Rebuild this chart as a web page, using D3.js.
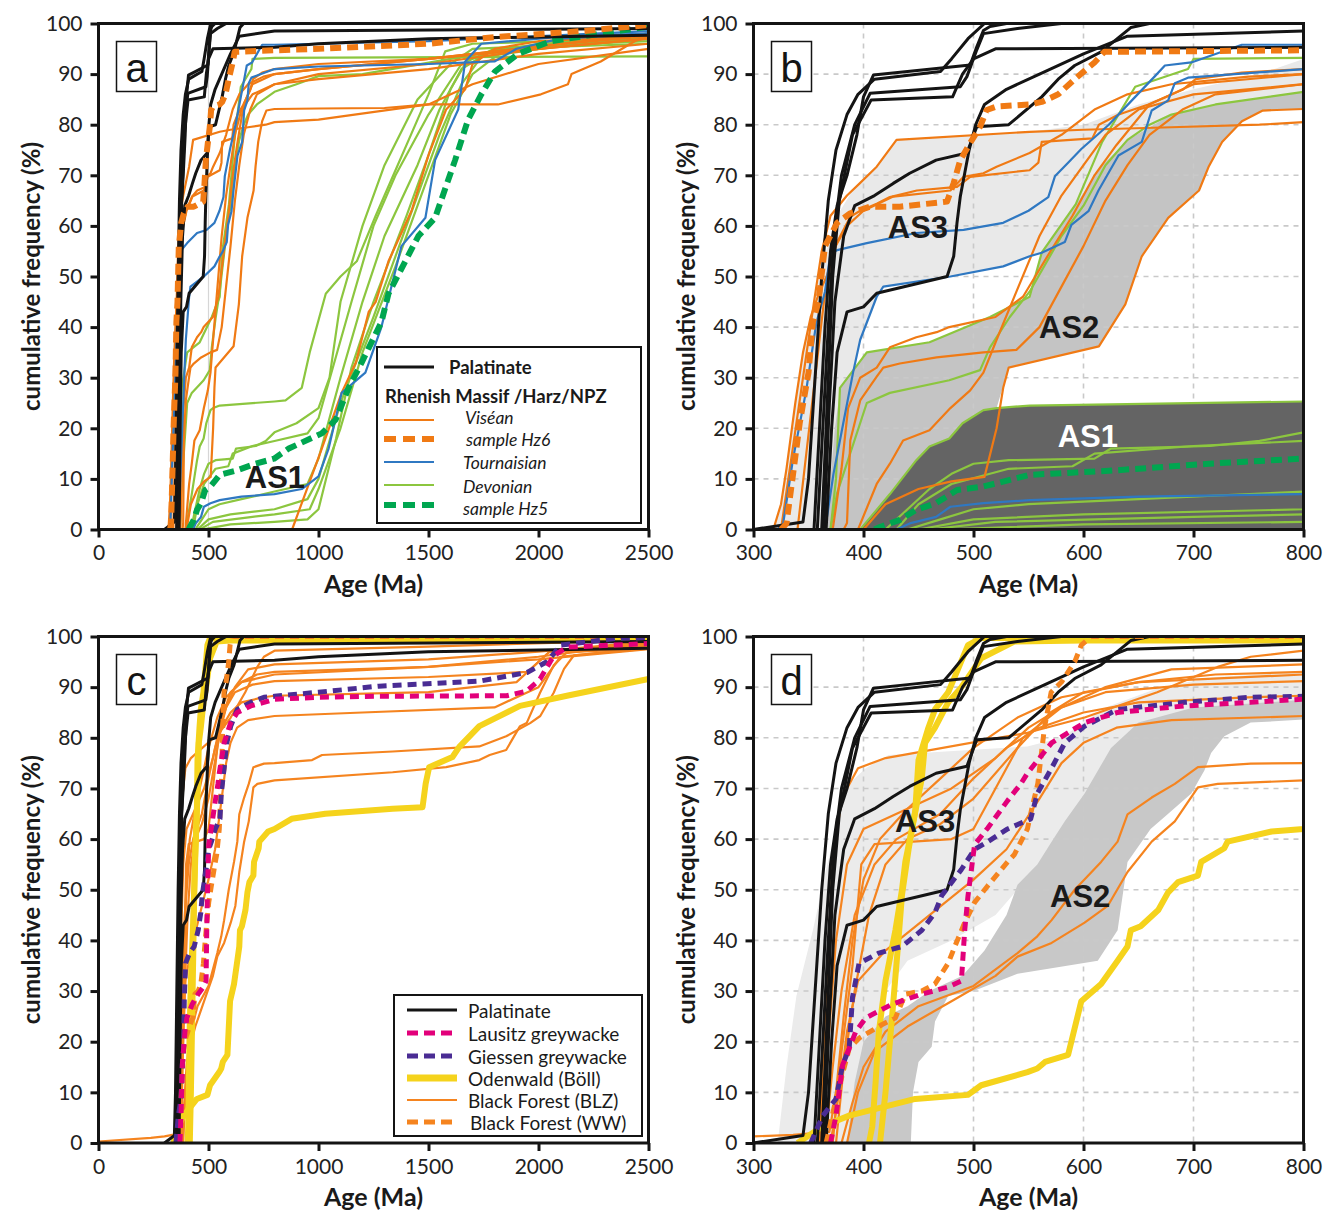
<!DOCTYPE html>
<html><head><meta charset="utf-8">
<script src="https://cdn.jsdelivr.net/npm/d3@7"></script>
<style>body{margin:0;background:#fff}</style>
</head><body>
<svg id="chart" width="1326" height="1212"></svg>
<script>
// ---- tick labels ----
const ageTicksWide = [0, 500, 1000, 1500, 2000, 2500];
const ageTicksZoom = [300, 400, 500, 600, 700, 800];
const freqTicks = [0, 10, 20, 30, 40, 50, 60, 70, 80, 90, 100];

// ---- cumulative age curves: [age (Ma), cumulative frequency (%)] ----
const palatinate = [
  [[355,0],[360,20],[365,40],[370,55],[376,64],[385,70],[394,78],[400,85.5],[409,89.8],[440,90.5],[497,91.8],[503,95.4],[509,98.6],[515,99.4],[530,100],[2500,100]],
  [[358,0],[363,20],[368,40],[373,58],[380,70],[392,80],[406,86.2],[488,87.5],[494,89.5],[503,94.8],[509,98],[540,99],[580,100],[2500,100]],
  [[362,0],[367,25],[372,50],[378,65],[390,78],[407,84.9],[481,85.5],[490,90],[500,93],[520,95],[800,95.3],[1000,96],[1500,97],[2500,97.7]],
  [[366,0],[371,20],[376,35],[385,43],[400,44],[412,46.7],[476,50],[482,54],[485,60.6],[488,65.8],[496,75],[502,80],[510,84],[530,87],[560,90],[600,94],[640,97.5],[800,98.5],[2500,99]],
  [[364,0],[369,25],[374,45],[382,58],[392,64],[410,66],[427,68.4],[442,70.4],[466,73],[494,74.4],[503,79.6],[532,80],[562,85.5],[577,89],[592,91.7],[616,94.4],[643,99.2],[660,100],[2500,100]],
  [[300,0],[330,1],[345,1.5],[350,10],[356,30],[362,50],[368,65],[375,75],[385,82],[395,86],[410,89],[470,90.5],[480,93],[495,97],[510,100],[2500,100]]
];

const visean = [
  [[318,0],[325,5],[330,12],[338,25],[345,35],[352,42],[360,47],[366.5,50],[375.6,56.6],[388,61.8],[397,63],[412,64.4],[424,65.7],[448.5,67],[485,67.7],[497,69.7],[509,70],[551,71],[559,72.5],[562,76.6],[608,77.3],[614,80],[632,82],[659,84],[690,86.9],[702,89],[744,90.3],[800,91],[1000,92],[1500,93],[2000,95],[2500,97]],
  [[325,0],[335,15],[345,30],[355,45],[362,55],[370,62],[385,66],[397,68.5],[412,71.7],[430,77],[551,78.6],[600,79],[680,79.5],[760,80],[800,80.5],[1000,81],[1500,84],[1700,88],[2000,92],[2500,95]],
  [[395,0],[412,9],[424,13],[436,17.6],[460,19.6],[479,24],[497,27.5],[509,31],[521,37.5],[539,47],[560,58],[580,66],[600,72],[620,78],[650,83],[700,86],[800,88],[1000,89],[1500,91],[2000,94],[2500,96]],
  [[382,0],[385,1.3],[388,17.6],[397,25.5],[412,30.2],[418,32],[433,32.8],[466.5,34],[509,35],[539,35.5],[560,40],[580,48],[600,56],[620,65],[640,72],[660,78],[690,83],[720,86],[800,88],[1000,90],[1500,92],[2000,95],[2500,97]],
  [[372,0],[380,12],[386,24],[397,30],[412,32],[424,36],[448,38],[466.5,39],[478,40],[520,42],[545,46],[570,55],[590,62],[610,70],[630,76],[660,84],[700,88],[800,90],[1000,91],[1500,93],[2500,98]],
  [[340,0],[348,15],[356,30],[364,45],[372,55],[385,60],[400,63],[427,65.8],[479,67],[491,69.7],[509,70.4],[521,71.7],[551,74.4],[580,78],[610,83],[640,86],[680,88],[750,89.5],[800,90],[1000,91],[1500,93],[2000,95.5],[2500,97.5]],
  [[400,0],[420,5],[450,8],[480,9.5],[510,10.4],[521,20],[527,28],[532,32],[614,36.2],[638,44.5],[653,54],[677,61.6],[705,67],[714,71.8],[726,76.6],[744,80.7],[763,82.8],[800,83.1],[1000,83.2],[1300,83.3],[1500,84],[1816,84],[2011,86],[2134,88],[2150,90],[2283,92.5],[2437,96.5],[2500,97.5]],
  [[880,0],[1015,16],[1105,27],[1170,33],[1228,43],[1260,45],[1318,53],[1423,63],[1500,74],[1580,83],[1667,87],[1700,92],[1800,95],[2000,96.5],[2500,97.5]]
];

const hz6 = [[325,0],[330,1.2],[336,11],[342,21],[350,31],[354,41],[359,45],[365,56],[376,60.6],[388,62.5],[406,63.8],[433,63.8],[476,64.8],[482,68.5],[488,73],[497,76.4],[506,79.6],[512,82.9],[521,83.6],[551,84],[562,84.5],[577,86],[592,89],[610,92.3],[619,94.4],[800,94.7],[1000,95],[1500,96],[1800,97.3],[2200,98.5],[2500,99.7]];

const tournaisian = [
  [[322,0],[327,1.2],[336,14],[348,27.6],[357,40.7],[365,47],[370,54.6],[376,55.2],[403,56.6],[448,58.6],[491,59.2],[527,60.6],[550,63],[568,65.7],[574,69.8],[586,72.5],[598,75.2],[623,80],[647,85.5],[665,89.6],[674,91.7],[698,92.3],[744,95.8],[800,95.8],[1000,96],[1500,96.5],[2500,98.5]],
  [[362,0],[366.5,2],[372.7,11],[381.6,21],[390.5,31],[397,37.5],[412,46],[418,48],[479,50],[527,52],[551,54],[562,54.7],[583,56.8],[589,60.2],[604.5,62.9],[613.6,67],[631.8,73.9],[653,76.6],[662,82.8],[677,84.8],[683,88.2],[695,89.3],[800,91],[1000,91.5],[1500,92],[1800,92.5],[1900,95],[2100,97],[2500,98]],
  [[430,0],[442,1.2],[466,2.5],[479,4.5],[509,5.2],[551,5.8],[650,6.5],[800,7],[924,8],[1000,10.5],[1046,16],[1105,27],[1213,31],[1286,40],[1377,56],[1486,61.6],[1530,73],[1635,83],[1667,92.5],[1740,96],[2134,97.5],[2500,98]]
];

const devonian = [
  [[397,0],[424,7],[448,13.7],[460,16.4],[478,18],[490,21],[509,23.6],[521,24],[551,24.5],[800,25.3],[850,25.5],[924,28],[960,35],[1033,46.6],[1100,50],[1174,53],[1260,62],[1350,71],[1420,78],[1500,86],[1576,94.5],[1700,96],[2500,97]],
  [[420,0],[440,4],[460,8],[480,11],[500,13],[532,13.7],[610,14],[625,16],[715,16.5],[760,17.5],[800,19.2],[900,21],[1000,24],[1050,30],[1100,45],[1200,60],[1300,72],[1450,85],[1600,92],[1700,95],[2500,96.5]],
  [[430,0],[450,5],[480,9],[532,12],[590,12.5],[610,15],[700,16.5],[800,17.5],[950,19],[1000,22],[1150,45],[1250,60],[1350,70],[1500,82],[1650,92],[1800,95],[2500,97]],
  [[440,0],[470,2],[500,4],[550,5],[650,6],[800,7.5],[950,9],[1000,14],[1100,30],[1200,45],[1300,58],[1450,72],[1550,83],[1650,91],[1800,95],[2500,96]],
  [[450,0],[500,2],[600,3],[800,4],[950,6],[1000,10],[1100,25],[1250,42],[1400,60],[1550,78],[1650,88],[1750,94],[2500,97.5]],
  [[460,0],[520,1.5],[700,2.5],[800,3],[960,4],[1000,8],[1100,20],[1200,35],[1350,52],[1500,70],[1600,82],[1700,90],[1850,95],[2500,98]],
  [[470,0],[600,1],[800,1.5],[950,2],[1000,4],[1080,18],[1150,32],[1250,45],[1400,62],[1500,74],[1600,87],[1680,93],[2500,98]],
  [[370,0],[375,10],[378.6,28],[403,35],[460,37],[515,42],[551,46],[562,54.7],[593,64.3],[617,76.6],[647,87.5],[695,91],[700,93],[800,93.2],[2500,93.5]],
  [[370,0],[376,7.2],[403,25],[424,27],[478,29.5],[506,31.5],[515,36],[533,42],[551,47],[580,58],[600,64],[620,72],[640,77],[660,80],[680,82],[720,84],[800,86.5],[900,88],[1000,89.6],[1200,90],[1600,93],[2000,96],[2500,97]]
];

const hz5 = [[410,0],[415,0.5],[433,1.9],[448,3.9],[466,5.2],[485,7.8],[509,8.5],[533,9.8],[551,10.8],[623,11.6],[714,13],[798,14],[865,16],[1015,19],[1078,21.7],[1137,28],[1196,33],[1286,41],[1318,46.6],[1454,58],[1530,61.6],[1621,73],[1680,81],[1740,86],[1802,90.5],[1907,94],[2056,96.5],[2283,98],[2500,99.4]];

const lausitz = [[370,0],[375,5.4],[381,15.4],[393,22],[402,24.7],[426,27.4],[453,29.4],[477,30.8],[489,32],[492,42],[495,48.8],[501,58.9],[513,62.2],[531,67.6],[543,70.9],[549,73],[571,79],[601,83],[631,85],[692,86.3],[752,87],[798,87.6],[1000,88],[1274,88.2],[1855,88.3],[1946,89.2],[2007,91.6],[2069,96.2],[2129,97.9],[2500,98.6]];

const giessen = [[352,0],[363,5.4],[375,8.7],[381,15.4],[387,18.7],[390,28.8],[396,35.5],[414,37.5],[435,38.8],[453,42],[465,45.5],[471,48.8],[489,54],[501,58],[513,59.5],[531,62],[552,64],[558,69],[571,74],[583,79],[601,82.3],[631,85.6],[692,87],[752,88],[800,88.2],[1000,89],[1274,90.2],[1734,91.2],[1948,92.9],[2038,95],[2102,98.3],[2347,99.6],[2500,99.8]];

const odenwald = [
  [[405,0],[408,3.3],[411,12],[414,22],[420,32],[429,42],[435,50],[438,55.5],[444,62],[453,72],[456,79],[465,82],[477,87],[489,90],[507,95.7],[537,99],[600,99.2],[2500,99.3]],
  [[415,0],[420,10],[426,25],[431,38],[435,49],[441,58],[447,65.5],[450,75.6],[459,82],[465,85.6],[477,89],[486,93.6],[495,98.3],[507,99.7],[2500,100]],
  [[340,0],[363,3.3],[387,5.4],[447,8.7],[495,9.5],[507,11.4],[549,14],[558,14.7],[565,16],[586,17.4],[598,28],[616,31.4],[631,36],[640,38.8],[643,42],[652,42.8],[668,46],[677,49.5],[686,51.5],[704,52.8],[707,55.5],[728,58.2],[731,59.5],[771,61.5],[800,62],[878,64],[1031,65],[1337,66],[1473,66.3],[1487,70.9],[1503,74.2],[1609,76.2],[1640,78.2],[1731,82.3],[1916,86.3],[2129,88.3],[2500,91.6]]
];

const blackForestBLZ = [
  [[0,0.3],[238,1],[300,1.3],[336,1.6],[369,2.2],[375,10],[382,25],[390,40],[400,52],[415,60],[440,66],[470,72],[500,78],[540,84],[580,88],[650,91],[800,92.5],[1500,94],[2000,95.5],[2500,97.5]],
  [[380,0],[390,8],[400,15],[420,22],[450,27],[500,31],[540,37.5],[558,40.8],[571,44],[592,50],[616,55.5],[631,59.5],[640,64.9],[662,68.2],[683,70.9],[704,74.2],[752,74.9],[800,75],[971,75.6],[1016,76.6],[1337,77.3],[1731,78.3],[1853,80.3],[1962,82.9],[2008,84.3],[2069,88.9],[2116,93.6],[2161,96.3],[2500,97.6]],
  [[385,0],[395,10],[410,18],[440,23],[480,28],[520,33],[540,36.8],[571,39.5],[601,43.5],[622,46.8],[640,53.5],[662,59.5],[683,63.5],[704,70.2],[722,70.9],[800,71.6],[1337,73.2],[1580,74.2],[1731,75.6],[1778,76.6],[1853,77.6],[1916,82.3],[1946,82.9],[2007,88.9],[2069,94.3],[2129,96.9],[2500,97.6]],
  [[370,0],[378,10],[385,22],[395,32],[420,38],[460,45],[500,52],[530,58],[560,68],[580,75],[600,79],[630,82],[680,83.5],[800,84.3],[1200,85],[1800,86],[2000,90],[2100,96],[2500,97.8]],
  [[365,0],[372,15],[380,30],[392,45],[410,55],[430,60],[470,65],[500,72],[530,78],[560,82],[600,85],[650,87],[750,88],[800,88.3],[1500,89],[1900,91],[2050,97],[2500,98.2]],
  [[360,0],[368,20],[375,40],[385,55],[400,62],[440,66],[480,70],[520,76],[550,82],[580,86],[620,89],[700,90.5],[800,91.2],[1500,92],[1950,93],[2050,97],[2500,98.6]],
  [[375,0],[382,15],[392,30],[405,45],[420,55],[440,60],[470,63],[500,68],[540,78],[570,85],[600,89],[650,91],[720,92.5],[800,93],[1500,94],[2000,96],[2500,98.8]],
  [[372,0],[380,18],[390,35],[398,55],[410,59],[480,60],[500,62],[520,70],[545,80],[580,86],[620,90],[680,93.5],[800,94.5],[1500,95.5],[2000,97],[2500,99]],
  [[360,0],[366,30],[372,55],[380,68],[395,74],[420,76],[549,81],[601,84],[667,89],[722,94],[752,96],[800,97.2],[1500,98],[2500,99.3]]
];

const blackForestWW = [[366,0],[375,8.7],[387,18.7],[396,20.7],[417,23.4],[429,24.7],[438,29.4],[453,30],[465,31.4],[477,35.5],[483,38.8],[492,43.5],[501,47.5],[513,50.8],[531,55.5],[537,56.9],[549,62],[553,66],[558.5,71],[564.5,82],[570.6,89],[580,91],[592,95],[598,98.3],[607,100],[2500,100]];

// ---- age-spectrum envelopes (AS1, AS2, AS3) ----
const as1Band = [[397,0],[424,7],[448,13.7],[460,16.4],[478,18],[490,21],[509,23.6],[521,24],[551,24.5],[800,25.3],[850,25.5],[850,0]];
const as2Band = [[366,0],[370,10],[374,20],[379,28],[403,35],[460,37],[515,42],[551,46],[562,54.7],[593,64.3],[617,72],[640,77],[680,82],[720,84],[800,86.5],[850,87],
                 [850,83.2],[800,83.1],[763,82.8],[744,80.7],[726,76.6],[714,71.8],[705,67],[677,61.6],[653,54],[638,44.5],[614,36.2],[532,32],[521,24],[509,23.6],[490,21],[478,18],[460,16.4],[448,13.7],[424,7],[397,0]];
const as3Band = [[318,0],[325,5],[330,12],[338,25],[345,35],[352,42],[360,50],[366,55],[376,62],[390,67],[397,68.5],[412,71.7],[430,77],[551,78.6],[600,80],[650,84],[700,87],[760,90],[800,93],[850,93],
                 [850,86],[800,86.5],[720,84],[680,82],[640,77],[617,72],[593,64.3],[562,54.7],[551,54],[527,52],[479,50],[418,48],[412,46],[397,37.5],[390,31],[382,21],[373,11],[367,2],[366,0]];
const as3BandD = [[322,0],[330,15],[339,29],[354,42],[366,54],[375,62],[387,71],[402,74],[423,76.6],[549,78.3],[580,80],[620,86],[670,90],[720,92],[800,93],[850,93],
                  [850,86],[800,86],[700,85],[650,82],[620,76],[600,68],[583,62],[560,55],[540,50],[520,45],[480,40],[440,36],[420,30],[410,15],[405,0]];
const as2BandD = [[385,0],[392,12],[400,20],[420,25],[440,27],[460,30],[490,33],[510,38],[530,45],[540,51],[558,55],[571,59.5],[583,63.5],[601,69],[625,78],[650,83],[700,86],[800,87.5],[850,88],
                  [850,83.6],[800,83.6],[752,83],[728,80.3],[716,77],[710,73.6],[698,69],[677,65],[661,62],[640,55.5],[631,42],[613,36],[540,33.4],[500,30],[477,29],[465,24],[462,19],[450,16],[445,10],[443,0]];

// ---- drawing ----
const FONT = "Lato, 'Open Sans', sans-serif";
const LABEL_FONT = "'Liberation Sans', Arial, sans-serif";
const C = {
  black: '#141414', visean: '#f07a14', tourn: '#2f78c2', devon: '#8cc63f', hz5: '#00a650',
  lausitz: '#e2007a', giessen: '#4a2c94', odenwald: '#f5d31c', blz: '#f5841f'
};

const svg = d3.select('#chart');
const defs = svg.append('defs');

function makePanel(cfg) {
  const x = d3.scaleLinear().domain(cfg.domain).range([cfg.left, cfg.right]);
  const y = d3.scaleLinear().domain([0, 100]).range([cfg.bottom, cfg.top]);
  const g = svg.append('g');
  defs.append('clipPath').attr('id', 'clip-' + cfg.id).append('rect')
    .attr('x', cfg.left).attr('y', cfg.top)
    .attr('width', cfg.right - cfg.left).attr('height', cfg.bottom - cfg.top);
  const plot = g.append('g').attr('clip-path', `url(#clip-${cfg.id})`);
  const line = d3.line().x(d => x(d[0])).y(d => y(d[1]));
  const area = d3.line().x(d => x(d[0])).y(d => y(d[1])).curve(d3.curveLinearClosed);
  return { x, y, g, plot, line, area, cfg };
}

function grid(p, xs) {
  const gg = p.plot.append('g').attr('stroke', '#c9c9c9').attr('stroke-width', 1.6).attr('stroke-dasharray', '5,5');
  gg.selectAll('line.v').data(xs).join('line')
    .attr('x1', d => p.x(d)).attr('x2', d => p.x(d)).attr('y1', p.cfg.top).attr('y2', p.cfg.bottom);
  gg.selectAll('line.h').data(freqTicks.slice(1, -1)).join('line')
    .attr('y1', d => p.y(d)).attr('y2', d => p.y(d)).attr('x1', p.cfg.left).attr('x2', p.cfg.right);
}

function band(p, pts, fill) {
  p.plot.append('path').attr('d', p.area(pts)).attr('fill', fill).attr('stroke', 'none');
}

function curves(p, data, color, width, dash) {
  p.plot.append('g').selectAll('path').data(data).join('path')
    .attr('d', p.line).attr('fill', 'none').attr('stroke', color)
    .attr('stroke-width', width).attr('stroke-linejoin', 'round')
    .attr('stroke-dasharray', dash || null);
}

function label(p, text, age, freq, color) {
  p.g.append('text').attr('x', p.x(age)).attr('y', p.y(freq))
    .attr('text-anchor', 'middle').attr('dominant-baseline', 'central')
    .attr('font-family', LABEL_FONT).attr('font-weight', 'bold').attr('font-size', 31)
    .attr('fill', color).text(text);
}

function axes(p, ticks) {
  const { cfg } = p;
  const ya = p.g.append('g').attr('transform', `translate(${cfg.left},0)`)
    .call(d3.axisLeft(p.y).tickValues(freqTicks).tickSize(8).tickPadding(8));
  const xa = p.g.append('g').attr('transform', `translate(0,${cfg.bottom})`)
    .call(d3.axisBottom(p.x).tickValues(ticks).tickSize(8).tickPadding(8).tickFormat(d3.format('d')));
  [ya, xa].forEach(a => {
    a.select('.domain').remove();
    a.selectAll('.tick line').attr('stroke', '#141414').attr('stroke-width', 3);
    a.selectAll('.tick text').attr('font-family', FONT).attr('font-size', 21).attr('fill', '#222');
  });
  p.g.append('rect').attr('x', cfg.left).attr('y', cfg.top)
    .attr('width', cfg.right - cfg.left).attr('height', cfg.bottom - cfg.top)
    .attr('fill', 'none').attr('stroke', '#141414').attr('stroke-width', 3);
  p.g.append('text').attr('x', (cfg.left + cfg.right) / 2).attr('y', cfg.bottom + 63)
    .attr('text-anchor', 'middle').attr('font-family', FONT).attr('font-weight', 'bold')
    .attr('font-size', 25).attr('fill', '#1a1a1a').text('Age (Ma)');
  const cy = (cfg.top + cfg.bottom) / 2, cx = cfg.left - 68;
  p.g.append('text').attr('transform', `translate(${cx},${cy}) rotate(-90)`)
    .attr('text-anchor', 'middle').attr('dominant-baseline', 'central')
    .attr('font-family', FONT).attr('font-weight', 'bold').attr('font-size', 24)
    .attr('fill', '#1a1a1a').text('cumulative frequency (%)');
  // panel letter box
  p.g.append('rect').attr('x', cfg.left + 18).attr('y', cfg.top + 18).attr('width', 40).attr('height', 50)
    .attr('fill', '#fff').attr('stroke', '#141414').attr('stroke-width', 1.5);
  p.g.append('text').attr('x', cfg.left + 38).attr('y', cfg.top + 44)
    .attr('text-anchor', 'middle').attr('dominant-baseline', 'central')
    .attr('font-family', LABEL_FONT).attr('font-size', 40).attr('fill', '#141414').text(cfg.id);
}

function legend(g, box, items) {
  g.append('rect').attr('x', box.x).attr('y', box.y).attr('width', box.w).attr('height', box.h)
    .attr('fill', '#fff').attr('stroke', '#141414').attr('stroke-width', 2);
  items.forEach(it => {
    if (it.color) {
      g.append('line').attr('x1', box.x + it.lx).attr('x2', box.x + it.lx + 50)
        .attr('y1', box.y + it.ly).attr('y2', box.y + it.ly)
        .attr('stroke', it.color).attr('stroke-width', it.w).attr('stroke-dasharray', it.dash || null);
    }
    g.append('text').attr('x', box.x + it.tx).attr('y', box.y + it.ty)
      .attr('dominant-baseline', 'central').attr('font-family', FONT).attr('font-size', it.size || 19)
      .attr('font-weight', it.bold ? 'bold' : 'normal').attr('font-style', it.italic ? 'italic' : 'normal')
      .attr('fill', '#1a1a1a').text(it.text);
  });
}

const DASH = '11,6';

// Panel a: Rhenish Massif / Harz / NPZ, full age range
const pa = makePanel({ id: 'a', domain: [0, 2500], left: 98.5, right: 648.5, top: 23.5, bottom: 529.5 });
pa.plot.append('line').attr('x1', pa.x(500)).attr('x2', pa.x(500)).attr('y1', pa.cfg.top).attr('y2', pa.cfg.bottom)
  .attr('stroke', '#d6d6d6').attr('stroke-width', 1.2);
curves(pa, devonian, C.devon, 2.2);
curves(pa, visean, C.visean, 2.2);
curves(pa, tournaisian, C.tourn, 2.2);
curves(pa, [hz5], C.hz5, 6, DASH);
curves(pa, palatinate, C.black, 3);
curves(pa, [hz6], C.visean, 6, DASH);
label(pa, 'AS1', 802, 10.2, '#1a1a1a');
axes(pa, ageTicksWide);
legend(pa.g, { x: 377, y: 347, w: 264, h: 176 }, [
  { text: 'Palatinate', bold: true, size: 18.5, color: C.black, w: 3, ly: 20, ty: 20, lx: 7, tx: 72 },
  { text: 'Rhenish Massif /Harz/NPZ', bold: true, size: 18.5, ty: 49, tx: 8 },
  { text: 'Viséan', italic: true, size: 17.5, color: C.visean, w: 2.2, ly: 73, ty: 70, lx: 7, tx: 88 },
  { text: 'sample Hz6', italic: true, size: 17.5, color: C.visean, w: 6, dash: '12,7', ly: 92, ty: 92, lx: 7, tx: 89 },
  { text: 'Tournaisian', italic: true, size: 17.5, color: C.tourn, w: 2.2, ly: 115, ty: 115, lx: 7, tx: 86 },
  { text: 'Devonian', italic: true, size: 17.5, color: C.devon, w: 2.2, ly: 138, ty: 139, lx: 7, tx: 86 },
  { text: 'sample Hz5', italic: true, size: 17.5, color: C.hz5, w: 6, dash: '12,7', ly: 158, ty: 161, lx: 7, tx: 86 }
]);

// Panel b: detail 300–800 Ma with age-spectrum envelopes
const pb = makePanel({ id: 'b', domain: [300, 800], left: 753.5, right: 1303.5, top: 23.5, bottom: 529.5 });
band(pb, as3Band, '#e9e9e9');
band(pb, as2Band, '#c4c4c4');
grid(pb, [400, 500, 600, 700]);
band(pb, as1Band, '#646464');
curves(pb, devonian, C.devon, 2.2);
curves(pb, visean, C.visean, 2.2);
curves(pb, tournaisian, C.tourn, 2.2);
curves(pb, [hz5], C.hz5, 6, DASH);
curves(pb, palatinate, C.black, 3);
curves(pb, [hz6], C.visean, 6, DASH);
label(pb, 'AS3', 449.5, 59.6, '#1a1a1a');
label(pb, 'AS2', 587, 40, '#1a1a1a');
label(pb, 'AS1', 604, 18.3, '#ffffff');
axes(pb, ageTicksZoom);

// Panel c: Lausitz, Giessen, Odenwald, Black Forest, full age range
const pc = makePanel({ id: 'c', domain: [0, 2500], left: 98.5, right: 648.5, top: 636.5, bottom: 1143 });
curves(pc, blackForestBLZ, C.blz, 2.2);
curves(pc, odenwald, C.odenwald, 6);
curves(pc, palatinate, C.black, 3);
curves(pc, [blackForestWW], C.blz, 5, '9,6');
curves(pc, [giessen], C.giessen, 5, '9,6');
curves(pc, [lausitz], C.lausitz, 5, '9,6');
axes(pc, ageTicksWide);
legend(pc.g, { x: 394, y: 995, w: 248, h: 141 }, [
  { text: 'Palatinate', color: C.black, w: 3, ly: 15, ty: 15, lx: 13, tx: 74 },
  { text: 'Lausitz greywacke', color: C.lausitz, w: 5, dash: '11,6', ly: 38, ty: 38, lx: 13, tx: 74 },
  { text: 'Giessen greywacke', color: C.giessen, w: 5, dash: '11,6', ly: 61, ty: 61, lx: 13, tx: 74 },
  { text: 'Odenwald (Böll)', color: C.odenwald, w: 7, ly: 83, ty: 83, lx: 13, tx: 74 },
  { text: 'Black Forest (BLZ)', color: C.blz, w: 2.2, ly: 105, ty: 105, lx: 13, tx: 74 },
  { text: 'Black Forest (WW)', color: C.blz, w: 5, dash: '11,6', ly: 127, ty: 127, lx: 13, tx: 76 }
]);

// Panel d: detail 300–800 Ma
const pd = makePanel({ id: 'd', domain: [300, 800], left: 753.5, right: 1303.5, top: 636.5, bottom: 1143 });
band(pd, as3BandD, '#ebebeb');
band(pd, as2BandD, '#c8c8c8');
grid(pd, [400, 500, 600, 700]);
curves(pd, blackForestBLZ, C.blz, 2.2);
curves(pd, odenwald, C.odenwald, 6);
curves(pd, palatinate, C.black, 3);
curves(pd, [blackForestWW], C.blz, 5, '9,6');
curves(pd, [giessen], C.giessen, 5, '9,6');
curves(pd, [lausitz], C.lausitz, 5, '9,6');
label(pd, 'AS3', 456, 63.4, '#1a1a1a');
label(pd, 'AS2', 597, 48.6, '#1a1a1a');
axes(pd, ageTicksZoom);
</script>
</body></html>
